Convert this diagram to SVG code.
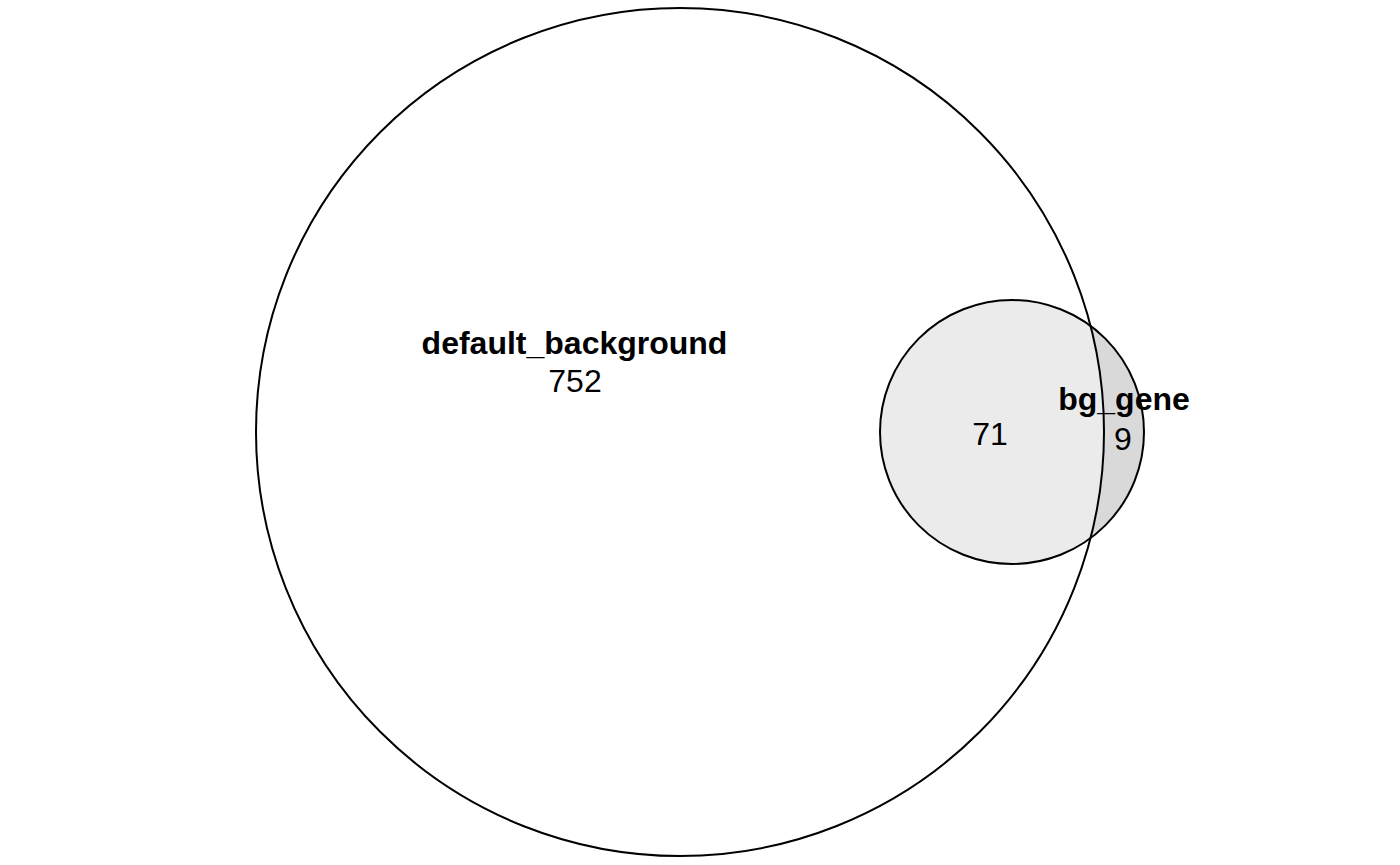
<svg xmlns="http://www.w3.org/2000/svg" width="1400" height="865" viewBox="0 0 1400 865">
<style>
.c{stroke:#000;stroke-width:2;fill:none}
.t{font-family:"Liberation Sans",Arial,sans-serif;font-size:32px;text-anchor:middle;fill:#000}
.b{font-weight:bold}
</style>
<defs>
<clipPath id="cb"><circle cx="680" cy="432" r="424"/></clipPath>
</defs>
<rect width="1400" height="865" fill="#fff"/>
<g id="bg_gene_fill">
<circle cx="1012" cy="432" r="132" fill="#d9d9d9"/>
<circle cx="1012" cy="432" r="132" fill="#ebebeb" clip-path="url(#cb)"/>
</g>
<g id="default_background">
<circle class="c" cx="680" cy="432" r="424"/>
</g>
<g id="bg_gene">
<circle class="c" cx="1012" cy="432" r="132"/>
</g>
<g id="labels">
<text class="t b" x="574.5" y="354">default_background</text>
<text class="t" x="575" y="392">752</text>
<text class="t b" x="1124" y="410">bg_gene</text>
<text class="t" x="1123" y="450">9</text>
<text class="t" x="990" y="445">71</text>
</g>
</svg>
